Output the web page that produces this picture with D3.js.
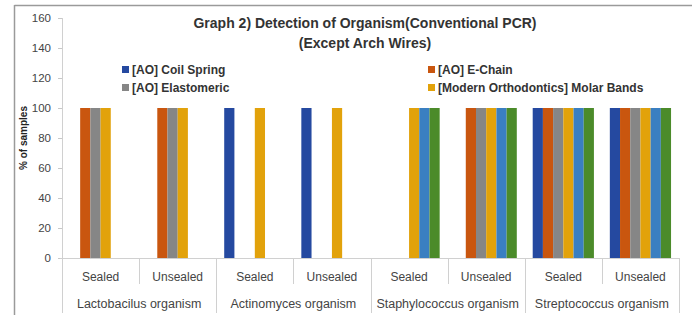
<!DOCTYPE html>
<html><head><meta charset="utf-8">
<script src="https://cdn.jsdelivr.net/npm/d3@7"></script>
<style>body{margin:0;background:#fff}svg{display:block}text{font-family:"Liberation Sans",Arial,sans-serif}</style>
</head><body><svg id="c" width="692" height="315"></svg>
<script>
const organisms = ["Lactobacilus organism","Actinomyces organism","Staphylococcus organism","Streptococcus organism"];
const conditions = ["Sealed","Unsealed"];
const seriesNames = ["[AO] Coil Spring","[AO] E-Chain","[AO] Elastomeric","[Modern Orthodontics] Molar Bands","Series 5","Series 6"];
const seriesColors = ["#2549a0","#c9560f","#868686","#e2a20b","#3a7fc1","#4b8b2a"];
// values per category (organism x condition), one array per series
const coilSpring  = [0,0,100,100,0,0,100,100];
const eChain      = [100,100,0,0,0,100,100,100];
const elastomeric = [100,100,0,0,0,100,100,100];
const molarBands  = [100,100,100,100,100,100,100,100];
const series5     = [0,0,0,0,100,100,100,100];
const series6     = [0,0,0,0,100,100,100,100];
const yTicks = [0,20,40,60,80,100,120,140,160];
const titleLines = ["Graph 2) Detection of Organism(Conventional PCR)","(Except Arch Wires)"];
const yTitle = "% of samples";

const seriesVals = [coilSpring,eChain,elastomeric,molarBands,series5,series6];
const cats = [];
organisms.forEach(o=>conditions.forEach(c=>cats.push(o+"|"+c)));

const svg = d3.select("#c");
const L=62,R=679,T=18,B=258;
const x = d3.scaleBand().domain(cats).range([L,R]).paddingInner(0).paddingOuter(0);
const xs = d3.scaleBand().domain(d3.range(6)).range([0,x.bandwidth()]).paddingInner(0).paddingOuter(0.78);
const y = d3.scaleLinear().domain([0,160]).range([B,T]);

// frame
svg.append("line").attr("x1",14.5).attr("x2",692).attr("y1",5.5).attr("y2",5.5).attr("stroke","#9a9a9a").attr("stroke-width",1.5);
svg.append("line").attr("x1",14.5).attr("x2",14.5).attr("y1",5).attr("y2",315).attr("stroke","#9a9a9a").attr("stroke-width",1.5);

// bars
const g = svg.append("g");
seriesVals.forEach((vals,si)=>{
  g.selectAll(null).data(cats.map((c,i)=>({c,v:vals[i]})).filter(d=>d.v>0)).enter().append("rect")
   .attr("x",d=>x(d.c)+xs(si)).attr("width",xs.bandwidth())
   .attr("y",d=>y(d.v)).attr("height",d=>y(0)-y(d.v)).attr("fill",seriesColors[si]);
});

// y axis
const ya = svg.append("g").attr("transform",`translate(${L},0)`)
  .call(d3.axisLeft(y).tickValues(yTicks).tickSize(4).tickPadding(7));
ya.select(".domain").remove();
ya.selectAll(".tick line").attr("stroke","#c8c8c8");
ya.selectAll("text").attr("font-size",11.5).attr("fill","#444");
svg.append("line").attr("x1",L+0.5).attr("x2",L+0.5).attr("y1",T).attr("y2",313).attr("stroke","#d0d0d0");

// x axis baseline
svg.append("line").attr("x1",L-2).attr("x2",R).attr("y1",B+0.5).attr("y2",B+0.5).attr("stroke","#d0d0d0");
// separators
cats.forEach((c,i)=>{
  if(i===0) return;
  const xx = Math.round(x(c))+0.5;
  const outer = i%2===0;
  svg.append("line").attr("x1",xx).attr("x2",xx).attr("y1",B).attr("y2",outer?313:284).attr("stroke","#d0d0d0");
});
svg.append("line").attr("x1",R+0.5).attr("x2",R+0.5).attr("y1",B).attr("y2",313).attr("stroke","#d0d0d0");

// category labels
svg.selectAll(null).data(cats).enter().append("text")
  .attr("x",d=>x(d)+x.bandwidth()/2).attr("y",281).attr("text-anchor","middle")
  .attr("font-size",12).attr("fill","#444").text(d=>d.split("|")[1]);
svg.selectAll(null).data(organisms).enter().append("text")
  .attr("x",(d)=>x(d+"|Sealed")+x.bandwidth()).attr("y",308).attr("text-anchor","middle")
  .attr("font-size",12.5).attr("fill","#444").text(d=>d);

// title
svg.selectAll(null).data(titleLines).enter().append("text")
  .attr("x",365).attr("y",(d,i)=>28+i*20).attr("text-anchor","middle")
  .attr("font-size",14).attr("font-weight","bold").attr("fill","#333").text(d=>d);

// y title
svg.append("text").attr("transform","translate(27,138) rotate(-90)").attr("text-anchor","middle")
  .attr("font-size",10).attr("font-weight","bold").attr("fill","#222").text(yTitle);

// legend
const legPos = [[122,70],[428,70],[122,88],[428,88]];
[0,1,2,3].forEach((si,k)=>{
  const [lx,ly]=legPos[k];
  svg.append("rect").attr("x",lx).attr("y",ly-4).attr("width",7).attr("height",7).attr("fill",seriesColors[si]);
  svg.append("text").attr("x",lx+10).attr("y",ly+4).attr("font-size",12).attr("font-weight","bold").attr("fill","#333").text(seriesNames[si]);
});
</script></body></html>
